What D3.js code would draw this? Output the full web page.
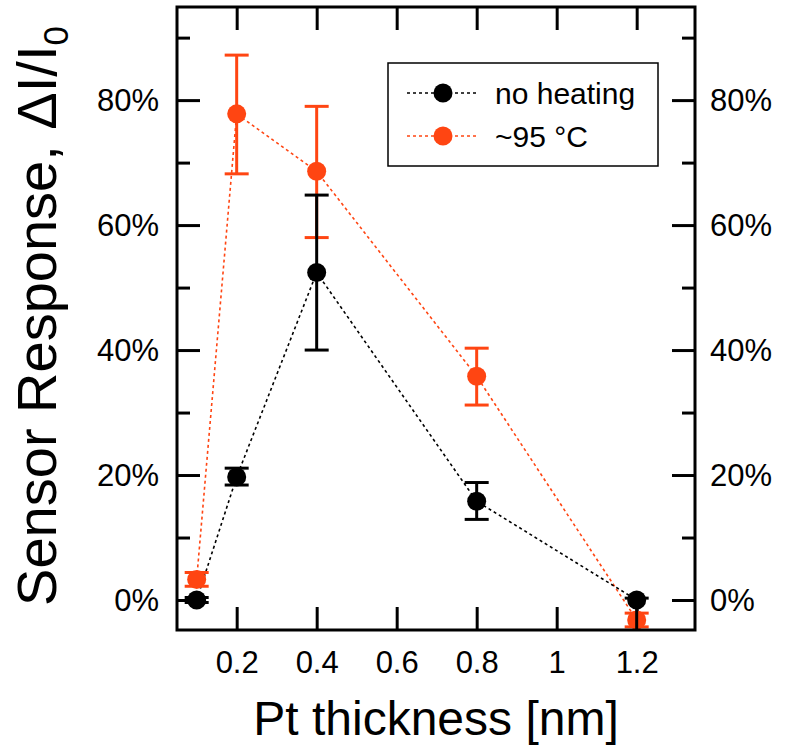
<!DOCTYPE html>
<html><head><meta charset="utf-8">
<script src="https://cdn.jsdelivr.net/npm/d3@7"></script>
<style>body{margin:0;background:#fff}svg{display:block}text{font-family:"Liberation Sans",Arial,sans-serif}</style>
</head><body><svg id="c" width="790" height="748"></svg>
<script>
const thickness = [0.1, 0.2, 0.4, 0.8, 1.2];
const noHeating = [0, 19.7, 52.4, 15.8, 0];
const noHeatingLo = [-0.4, 18.4, 40.0, 12.9, -6];
const noHeatingHi = [0.4, 21.1, 64.8, 18.8, 0.3];
const heated = [3.3, 77.8, 68.6, 35.8, -3.2];
const heatedLo = [2.2, 68.2, 58.0, 31.2, -4.3];
const heatedHi = [4.4, 87.2, 79.0, 40.3, -2.1];
const xTicks = [0.2, 0.4, 0.6, 0.8, 1.0, 1.2];
const yMajor = [0, 20, 40, 60, 80];
const yMinor = [10, 30, 50, 70, 90];
const seriesNames = ["no heating", "~95 °C"];
const colors = ["#000000", "#ff4512"];

const svg = d3.select("#c");
const L = 177, R = 695, T = 7, B = 630;
const x = d3.scaleLinear().domain([0.0508, 1.3458]).range([L, R]);
const y = d3.scaleLinear().domain([-4.8, 94.9]).range([B, T]);

function styleAxis(g){
  g.select(".domain").remove();
  g.selectAll("line").attr("stroke","#000").attr("stroke-width",3);
  g.selectAll("text").attr("font-size",31).attr("fill","#000");
}
const fmtY = d => d + "%";
const fmtX = d => d3.format("~g")(d);

svg.append("g").attr("transform",`translate(${L},0)`)
  .call(d3.axisLeft(y).tickValues(yMajor).tickSize(-23).tickPadding(18).tickFormat(fmtY)).call(styleAxis);
svg.append("g").attr("transform",`translate(${L},0)`)
  .call(d3.axisLeft(y).tickValues(yMinor).tickSize(-13).tickFormat("")).call(styleAxis);
svg.append("g").attr("transform",`translate(${R},0)`)
  .call(d3.axisRight(y).tickValues(yMajor).tickSize(-23).tickPadding(15).tickFormat(fmtY)).call(styleAxis);
svg.append("g").attr("transform",`translate(${R},0)`)
  .call(d3.axisRight(y).tickValues(yMinor).tickSize(-13).tickFormat("")).call(styleAxis);
svg.append("g").attr("transform",`translate(0,${B})`)
  .call(d3.axisBottom(x).tickValues(xTicks).tickSize(-23).tickPadding(21).tickFormat(fmtX)).call(styleAxis);
svg.append("g").attr("transform",`translate(0,${T})`)
  .call(d3.axisTop(x).tickValues(xTicks).tickSize(-23).tickFormat("")).call(styleAxis);
svg.selectAll("g.tick text").each(function(){
  const t = d3.select(this);
  if (t.attr("y") !== null && +t.attr("y") > 0) t.attr("dy","0.71em");
  else t.attr("dy","0.35em");
});

svg.append("defs").append("clipPath").attr("id","clip")
  .append("rect").attr("x",L).attr("y",T).attr("width",R-L).attr("height",B-T);
const plot = svg.append("g").attr("clip-path","url(#clip)");

const series = [
  {v: heated, lo: heatedLo, hi: heatedHi, c: colors[1]},
  {v: noHeating, lo: noHeatingLo, hi: noHeatingHi, c: colors[0]}
];
const line = d3.line().x((d,i)=>x(thickness[i])).y(d=>y(d));
series.forEach(s=>{
  plot.append("path").datum(s.v).attr("d",line).attr("fill","none")
    .attr("stroke",s.c).attr("stroke-width",1.6).attr("stroke-dasharray","3,3");
});
series.forEach(s=>{
  const g = plot.append("g");
  thickness.forEach((t,i)=>{
    const cx = x(t);
    g.append("line").attr("x1",cx).attr("x2",cx).attr("y1",y(s.lo[i])).attr("y2",y(s.hi[i]))
      .attr("stroke",s.c).attr("stroke-width",3);
    [s.lo[i], s.hi[i]].forEach(e=>{
      g.append("line").attr("x1",cx-12).attr("x2",cx+12).attr("y1",y(e)).attr("y2",y(e))
        .attr("stroke",s.c).attr("stroke-width",3);
    });
  });
  g.selectAll("circle").data(s.v).join("circle")
    .attr("cx",(d,i)=>x(thickness[i])).attr("cy",d=>y(d)).attr("r",9.5).attr("fill",s.c);
});

// frame
svg.append("rect").attr("x",L).attr("y",T).attr("width",R-L).attr("height",B-T)
  .attr("fill","none").attr("stroke","#000").attr("stroke-width",3);

// legend
const lg = svg.append("g");
lg.append("rect").attr("x",388).attr("y",63).attr("width",270).attr("height",103)
  .attr("fill","#fff").attr("stroke","#000").attr("stroke-width",1.5);
seriesNames.forEach((n,i)=>{
  const yy = 93 + i*43;
  lg.append("line").attr("x1",407).attr("x2",478).attr("y1",yy).attr("y2",yy)
    .attr("stroke",colors[i]).attr("stroke-width",1.6).attr("stroke-dasharray","3,3");
  lg.append("circle").attr("cx",443).attr("cy",yy).attr("r",9.5).attr("fill",colors[i]);
  lg.append("text").attr("x",495).attr("y",yy).attr("dy","0.35em").attr("font-size",30).text(n);
});

// axis titles
svg.append("text").attr("x",(L+R)/2).attr("y",735).attr("text-anchor","middle")
  .attr("font-size",48).text("Pt thickness [nm]");
const yt = svg.append("text").attr("transform","translate(56,316) rotate(-90)")
  .attr("text-anchor","middle").attr("font-size",56);
yt.append("tspan").text("Sensor Response, ΔI/I");
yt.append("tspan").attr("font-size",35).attr("dy",12).text("0");
</script></body></html>
